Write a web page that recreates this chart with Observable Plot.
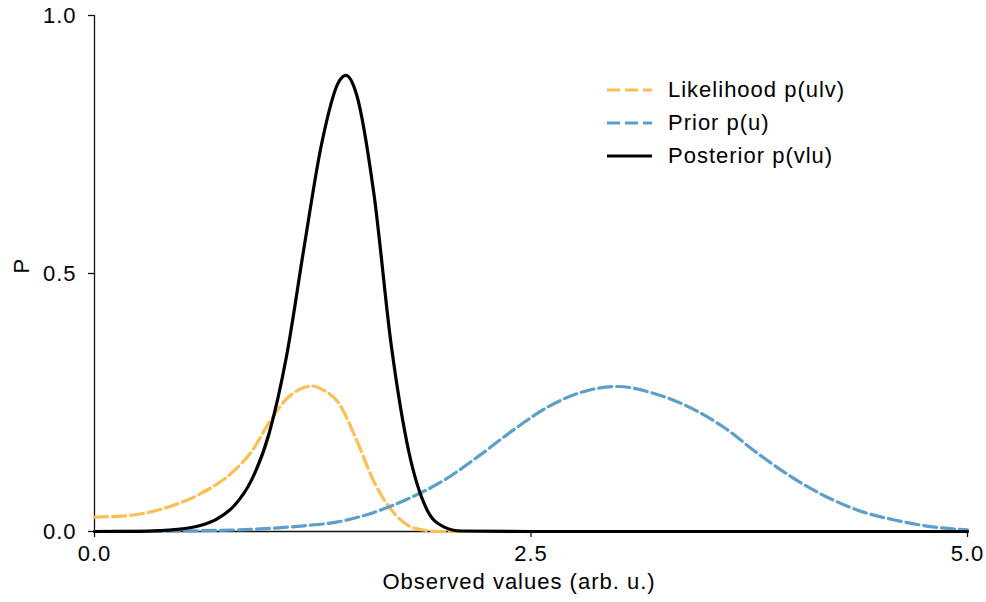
<!DOCTYPE html>
<html>
<head>
<meta charset="utf-8">
<script src="https://cdn.jsdelivr.net/npm/d3@7"></script>
<script src="https://cdn.jsdelivr.net/npm/@observablehq/plot@0.6"></script>
<style>
  body { margin: 0; background: #fff; }
  #chart { position: relative; width: 986px; height: 602px; font-family: "Liberation Sans", Arial, Helvetica, sans-serif; }
  .legend { position: absolute; left: 607px; top: 73px; font-size: 22px; letter-spacing: 1px; color: #000; }
  .legend .row { display: flex; align-items: center; height: 33px; white-space: nowrap; }
  .legend svg { margin-right: 16px; display: block; }
</style>
</head>
<body>
<div id="chart"></div>
<script>
// Likelihood p(u|v): skewed bump around 1.25
const likelihoodX = [0, 0.2, 0.4, 0.6, 0.8, 0.9, 1.0, 1.1, 1.2, 1.25, 1.3, 1.4, 1.5, 1.6, 1.7, 1.8, 1.9, 2.0, 2.1];
const likelihoodP = [0.028, 0.031, 0.045, 0.072, 0.118, 0.155, 0.211, 0.257, 0.279, 0.282, 0.276, 0.248, 0.178, 0.097, 0.042, 0.011, 0.002, 0, 0];

// Prior p(u): broad bump centred near 3
const priorX = [0, 0.5, 0.8, 1.0, 1.2, 1.4, 1.6, 1.8, 2.0, 2.2, 2.4, 2.6, 2.8, 3.0, 3.2, 3.4, 3.6, 3.8, 4.0, 4.2, 4.4, 4.6, 4.8, 5.0];
const priorP = [0, 0.001, 0.003, 0.006, 0.011, 0.019, 0.037, 0.064, 0.099, 0.146, 0.197, 0.242, 0.271, 0.281, 0.268, 0.242, 0.203, 0.151, 0.104, 0.066, 0.038, 0.021, 0.009, 0.003];

// Posterior p(v|u): narrow peak near 1.44
const posteriorX = [0, 0.2, 0.3, 0.4, 0.5, 0.6, 0.7, 0.8, 0.9, 1.0, 1.1, 1.2, 1.3, 1.4, 1.44, 1.5, 1.6, 1.7, 1.8, 1.9, 2.0, 2.1, 2.5, 5.0];
const posteriorP = [0, 0.0003, 0.0008, 0.002, 0.005, 0.011, 0.024, 0.05, 0.1, 0.19, 0.34, 0.55, 0.75, 0.872, 0.884, 0.848, 0.655, 0.36, 0.155, 0.045, 0.009, 0.001, 0, 0];

const seriesNames = ["Likelihood p(ulv)", "Prior p(u)", "Posterior p(vlu)"];
const seriesColors = ["#fcbe55", "#5d9fcc", "#000000"];
const seriesDash = ["13,5", "13,5", null];

const xTicks = [0, 2.5, 5];
const yTicks = [0, 0.5, 1];
const xLabel = "Observed values (arb. u.)";
const yLabel = "P";

const toRows = (xs, ps) => xs.map((x, i) => ({x, p: ps[i]}));
const series = [toRows(likelihoodX, likelihoodP), toRows(priorX, priorP), toRows(posteriorX, posteriorP)];

const fmt = d3.format(".1f");
const axisColor = "#111";

const plot = Plot.plot({
  width: 986,
  height: 602,
  marginLeft: 94,
  marginRight: 19,
  marginTop: 15,
  marginBottom: 71,
  x: {domain: [0, 5]},
  y: {domain: [0, 1]},
  style: {
    fontFamily: '"Liberation Sans", Arial, Helvetica, sans-serif',
    fontSize: "22px",
    letterSpacing: "1px",
    color: "#000",
    background: "#fff",
    overflow: "visible"
  },
  marks: [
    Plot.axisY({ticks: yTicks, tickFormat: fmt, tickSize: 6, tickPadding: 12, label: null, stroke: axisColor, strokeWidth: 1.3}),
    Plot.axisX({ticks: xTicks, tickFormat: fmt, tickSize: 6, tickPadding: 8, label: null, stroke: axisColor, strokeWidth: 1.3}),
    Plot.ruleX([0], {stroke: axisColor, strokeWidth: 1.3}),
    Plot.ruleY([0], {stroke: axisColor, strokeWidth: 1.3}),
    ...series.map((rows, i) => Plot.line(rows, {
      x: "x",
      y: "p",
      stroke: seriesColors[i],
      strokeWidth: 3.2,
      strokeDasharray: seriesDash[i] ?? undefined,
      curve: "monotone-x"
    })),
    Plot.text([yLabel], {frameAnchor: "left", rotate: -90, dx: -73}),
    Plot.text([xLabel], {frameAnchor: "bottom", dy: 57, dx: -12})
  ]
});

const chart = document.getElementById("chart");
chart.appendChild(plot);

// Legend overlaid in the upper right of the plotting area
const legend = document.createElement("div");
legend.className = "legend";
seriesNames.forEach((name, i) => {
  const row = document.createElement("div");
  row.className = "row";
  const dash = seriesDash[i] ? ` stroke-dasharray="${seriesDash[i]}"` : "";
  row.innerHTML = `<svg width="45" height="6"><line x1="0" x2="45" y1="3" y2="3" stroke="${seriesColors[i]}" stroke-width="3.2"${dash}/></svg><span>${name}</span>`;
  legend.appendChild(row);
});
chart.appendChild(legend);
</script>
</body>
</html>
